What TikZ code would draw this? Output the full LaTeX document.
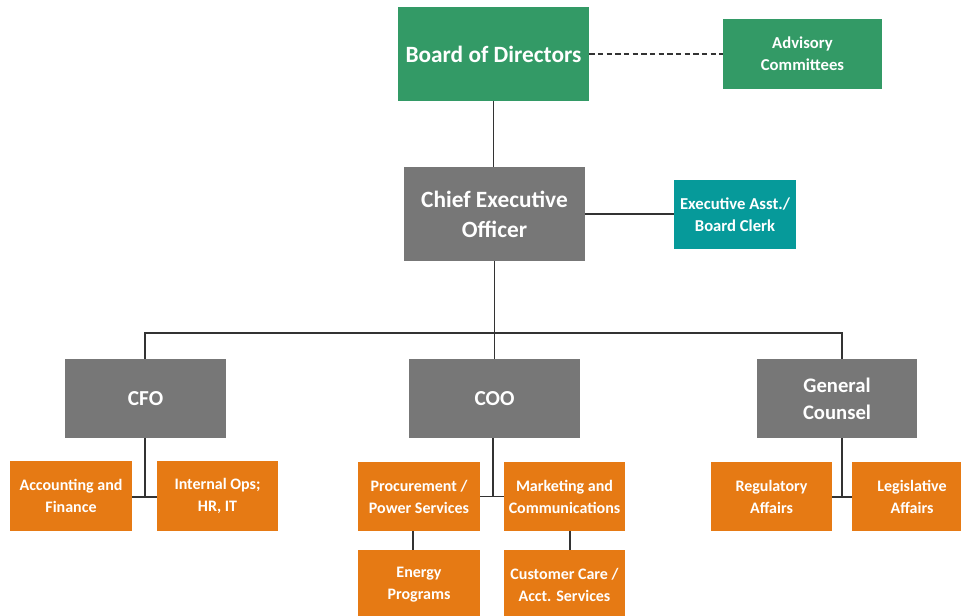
\documentclass[tikz,border=0pt]{standalone}
\usepackage{fontspec}
\setmainfont{Carlito}
\usetikzlibrary{calc}
\definecolor{boardgreen}{HTML}{339A66}
\definecolor{execgray}{HTML}{777777}
\definecolor{deptorange}{HTML}{E67A14}
\definecolor{clerkteal}{HTML}{069A9A}
\definecolor{linegray}{HTML}{333333}
\tikzset{
  box/.style 2 args={rectangle, inner sep=0pt, align=center, text=white,
    minimum width=#1*0.75pt, minimum height=#2*0.75pt},
  greenbox/.style={fill=boardgreen},
  graybox/.style={fill=execgray},
  orangebox/.style={fill=deptorange, font=\bfseries\fontsize{12}{16.5}\selectfont},
  tealbox/.style={fill=clerkteal, font=\bfseries\fontsize{12.5}{16.5}\selectfont},
  officer/.style={graybox, font=\bfseries\fontsize{16}{20.25}\selectfont},
  link/.style={draw=linegray, line width=0.9pt},
}
\begin{document}
\begin{tikzpicture}[x=0.75pt, y=-0.75pt]
\useasboundingbox (0,0) rectangle (961,616);
\clip (0,0) rectangle (961,616);
\fill[white] (0,0) rectangle (961,616);

% top level
\node[box={191}{94}, greenbox, font=\bfseries\fontsize{17.5}{22}\selectfont] (bod) at (493.5,54) {Board of Directors};
\node[box={159}{70}, greenbox, font=\bfseries\fontsize{12.5}{16.5}\selectfont] (adv) at (802.5,54) {Advisory\\Committees};
\node[box={181}{94}, graybox, font=\bfseries\fontsize{17.5}{22.5}\selectfont] (ceo) at (494.5,214) {Chief Executive\\Officer};
\node[box={122}{69}, tealbox] (exa) at (735,214.5) {Executive Asst./\\Board Clerk};

% officers
\node[box={161}{79}, officer] (cfo) at (145.5,398.5) {CFO};
\node[box={171}{79}, officer] (coo) at (494.5,398.5) {COO};
\node[box={160}{79}, officer, font=\bfseries\fontsize{15.5}{20.25}\selectfont] (gc) at (837,398.5) {General\\Counsel};

% departments
\node[box={122}{70}, orangebox] (acc) at (71,496) {Accounting and\\Finance};
\node[box={121}{70}, orangebox] (iop) at (217.5,496) {Internal Ops;\\HR, IT};
\node[box={122}{69}, orangebox] (pro) at (419,496.5) {Procurement /\\Power Services};
\node[box={121}{69}, orangebox] (mkt) at (564.5,496.5) {Marketing and\\Communications};
\node[box={121}{69}, orangebox] (reg) at (771.5,496.5) {Regulatory\\Affairs};
\node[box={120}{69}, orangebox] (leg) at (912,496.5) {Legislative\\Affairs};
\node[box={122}{70}, orangebox] (ene) at (419,585) {Energy\\Programs};
\node[box={121}{70}, orangebox] (cus) at (564.5,585) {Customer Care /\\Acct. Services};

% connectors
\coordinate (bus) at (0,333);
\draw[link] (bod.south) -- (bod.south |- ceo.north);
\draw[link, dashed, dash pattern=on 4pt off 2.5pt] (bod.east) -- (adv.west);
\draw[link] (ceo.east) -- (ceo.east -| exa.west);
\draw[link] (ceo.south) -- (ceo.south |- bus);
\draw[link] (cfo.north -| 145,0) -- (145,333) -- (842,333) -- (842,0 |- gc.north);
\draw[link] (ceo.south |- bus) -- (coo.north);

\draw[link] (145,0 |- cfo.south) -- (145,497);
\draw[link] (acc.east |- 0,497) -- (iop.west |- 0,497);
\draw[link] (493,0 |- coo.south) -- (493,496);
\draw[link] (pro.east) -- (mkt.west);
\draw[link] (842,0 |- gc.south) -- (842,497);
\draw[link] (reg.east |- 0,497) -- (leg.west |- 0,497);

\draw[link] (413,0 |- pro.south) -- (413,0 |- ene.north);
\draw[link] (570,0 |- mkt.south) -- (570,0 |- cus.north);
\end{tikzpicture}
\end{document}
